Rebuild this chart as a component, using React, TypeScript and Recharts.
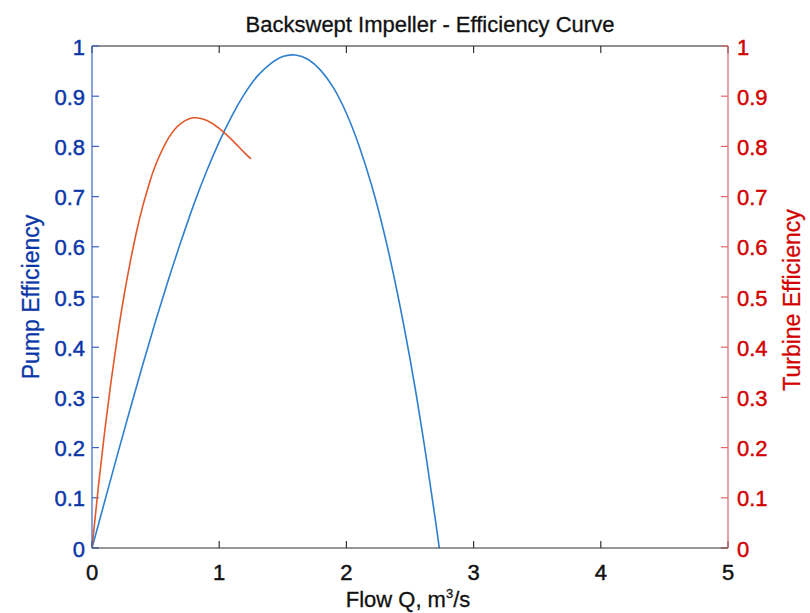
import React from 'react';
import { LineChart, Line, XAxis, YAxis, ReferenceLine } from 'recharts';

// Pump efficiency (blue, left axis)
const pumpQ = [0, 0.1, 0.2, 0.3, 0.4, 0.5, 0.6, 0.7, 0.8, 0.9, 1.0, 1.1, 1.2, 1.3, 1.4, 1.5, 1.6, 1.7, 1.8, 1.9, 2.0, 2.1, 2.2, 2.3, 2.4, 2.5, 2.6, 2.7, 2.73];
const pumpEff = [0, 0.093, 0.186, 0.277, 0.366, 0.452, 0.534, 0.611, 0.684, 0.75, 0.809, 0.861, 0.905, 0.94, 0.964, 0.979, 0.982, 0.973, 0.951, 0.916, 0.866, 0.801, 0.721, 0.624, 0.509, 0.377, 0.226, 0.055, 0];

// Turbine efficiency (orange, right axis)
const turbineQ = [0, 0.05, 0.1, 0.15, 0.2, 0.25, 0.3, 0.35, 0.4, 0.45, 0.5, 0.6, 0.7, 0.8, 0.9, 1.0, 1.1, 1.2, 1.25];
const turbineEff = [0, 0.122, 0.233, 0.332, 0.421, 0.5, 0.569, 0.63, 0.682, 0.726, 0.763, 0.816, 0.846, 0.857, 0.852, 0.836, 0.813, 0.787, 0.775];

const xTicks = [0, 1, 2, 3, 4, 5];
const yTicks = [0, 0.1, 0.2, 0.3, 0.4, 0.5, 0.6, 0.7, 0.8, 0.9, 1];

const pumpData = pumpQ.map((q, i) => ({ q, pump: pumpEff[i] }));
const turbineData = turbineQ.map((q, i) => ({ q, turbine: turbineEff[i] }));

const FONT = '"Liberation Sans", Arial, Helvetica, sans-serif';
const BLUE_TEXT = '#0a36a8';
const BLUE_AXIS = '#3a64c4';
const RED_TEXT = '#d20000';
const RED_AXIS = '#e06666';
const TICK_FONT = 22;
const BOLDEN = 0.45;
// inward tick length, in axis units (~7px)
const TICK_DX = 0.055;
const TICK_DY = 0.014;

const fmt = (v: number) => (v === 0 || v === 1 ? String(v) : v.toFixed(1));

const LeftTick = ({ x, y, payload }: any) => (
  <text x={x} y={y + 1} textAnchor="end" dominantBaseline="central" fontSize={TICK_FONT} fontFamily={FONT} fill={BLUE_TEXT} stroke={BLUE_TEXT} strokeWidth={BOLDEN}>
    {fmt(payload.value)}
  </text>
);

const RightTick = ({ x, y, payload }: any) => (
  <text x={x} y={y + 1} textAnchor="start" dominantBaseline="central" fontSize={TICK_FONT} fontFamily={FONT} fill={RED_TEXT} stroke={RED_TEXT} strokeWidth={BOLDEN}>
    {fmt(payload.value)}
  </text>
);

const BottomTick = ({ x, y, payload }: any) => (
  <text x={x} y={y + 32} textAnchor="middle" fontSize={TICK_FONT} fontFamily={FONT} fill="#111111" stroke="#111111" strokeWidth={BOLDEN}>
    {payload.value}
  </text>
);

export default function App() {
  return (
    <div style={{ position: 'absolute', left: 0, top: 0, width: 810, height: 613, background: '#ffffff', fontFamily: FONT }}>
      <LineChart width={810} height={613} margin={{ top: 46, right: 0, bottom: 0, left: 0 }}>
        <XAxis
          xAxisId="bottom"
          dataKey="q"
          type="number"
          domain={[0, 5]}
          ticks={xTicks}
          interval={0}
          allowDataOverflow
          height={65}
          stroke="#333333"
          strokeWidth={1.2}
          tickLine={false}
          tickSize={0}
          tickMargin={0}
          tick={<BottomTick />}
          label={{
            content: ({ viewBox }: any) => (
              <text x={viewBox.x + viewBox.width / 2 - 2} y={607} textAnchor="middle" fontSize={22} fontFamily={FONT} fill="#111111" stroke="#111111" strokeWidth={0.3}>
                Flow Q, m<tspan fontSize={13} dy={-9}>3</tspan><tspan dy={9}>/s</tspan>
              </text>
            ),
          }}
        />
        <YAxis
          yAxisId="left"
          domain={[0, 1]}
          ticks={yTicks}
          interval={0}
          width={92}
          stroke={BLUE_AXIS}
          strokeWidth={1.2}
          tickLine={false}
          tickSize={0}
          tickMargin={7}
          tick={<LeftTick />}
          label={{
            content: ({ viewBox }: any) => {
              const cx = viewBox.x + 31;
              const cy = viewBox.y + viewBox.height / 2;
              return (
                <text x={cx} y={cy} transform={`rotate(-90 ${cx} ${cy})`} textAnchor="middle" dominantBaseline="central" fontSize={23} fontFamily={FONT} fill={BLUE_TEXT} stroke={BLUE_TEXT} strokeWidth={0.3}>
                  Pump Efficiency
                </text>
              );
            },
          }}
        />
        <YAxis
          yAxisId="right"
          orientation="right"
          domain={[0, 1]}
          ticks={yTicks}
          interval={0}
          width={82}
          stroke={RED_AXIS}
          strokeWidth={1.2}
          tickLine={false}
          tickSize={0}
          tickMargin={9}
          tick={<RightTick />}
          label={{
            content: ({ viewBox }: any) => {
              const cx = viewBox.x + 64;
              const cy = viewBox.y + viewBox.height / 2 + 3;
              return (
                <text x={cx} y={cy} transform={`rotate(-90 ${cx} ${cy})`} textAnchor="middle" dominantBaseline="central" fontSize={23} fontFamily={FONT} fill={RED_TEXT} stroke={RED_TEXT} strokeWidth={0.3}>
                  Turbine Efficiency
                </text>
              );
            },
          }}
        />

        {/* box top edge and title */}
        <ReferenceLine
          xAxisId="bottom"
          yAxisId="left"
          y={1}
          stroke="#222222"
          strokeWidth={1.2}
          label={{
            content: ({ viewBox }: any) => (
              <text x={viewBox.x + viewBox.width / 2 + 20} y={32} textAnchor="middle" fontSize={22} fontFamily={FONT} fill="#111111" stroke="#111111" strokeWidth={0.3}>
                Backswept Impeller - Efficiency Curve
              </text>
            ),
          }}
        />

        {/* inward tick marks */}
        {xTicks.map((t) => (
          <ReferenceLine key={`b${t}`} xAxisId="bottom" yAxisId="left" segment={[{ x: t, y: 0 }, { x: t, y: TICK_DY }]} stroke="#333333" strokeWidth={1.2} />
        ))}
        {xTicks.map((t) => (
          <ReferenceLine key={`t${t}`} xAxisId="bottom" yAxisId="left" segment={[{ x: t, y: 1 - TICK_DY }, { x: t, y: 1 }]} stroke="#333333" strokeWidth={1.2} />
        ))}
        {yTicks.map((v) => (
          <ReferenceLine key={`l${v}`} xAxisId="bottom" yAxisId="left" segment={[{ x: 0, y: v }, { x: TICK_DX, y: v }]} stroke={BLUE_AXIS} strokeWidth={1.2} />
        ))}
        {yTicks.map((v) => (
          <ReferenceLine key={`r${v}`} xAxisId="bottom" yAxisId="right" segment={[{ x: 5 - TICK_DX, y: v }, { x: 5, y: v }]} stroke={RED_AXIS} strokeWidth={1.2} />
        ))}

        <Line
          data={pumpData}
          xAxisId="bottom"
          yAxisId="left"
          dataKey="pump"
          type="natural"
          stroke="#2f7fcf"
          strokeWidth={1.6}
          dot={false}
          isAnimationActive={false}
        />
        <Line
          data={turbineData}
          xAxisId="bottom"
          yAxisId="right"
          dataKey="turbine"
          type="natural"
          stroke="#e0592a"
          strokeWidth={1.6}
          dot={false}
          isAnimationActive={false}
        />
      </LineChart>
    </div>
  );
}
